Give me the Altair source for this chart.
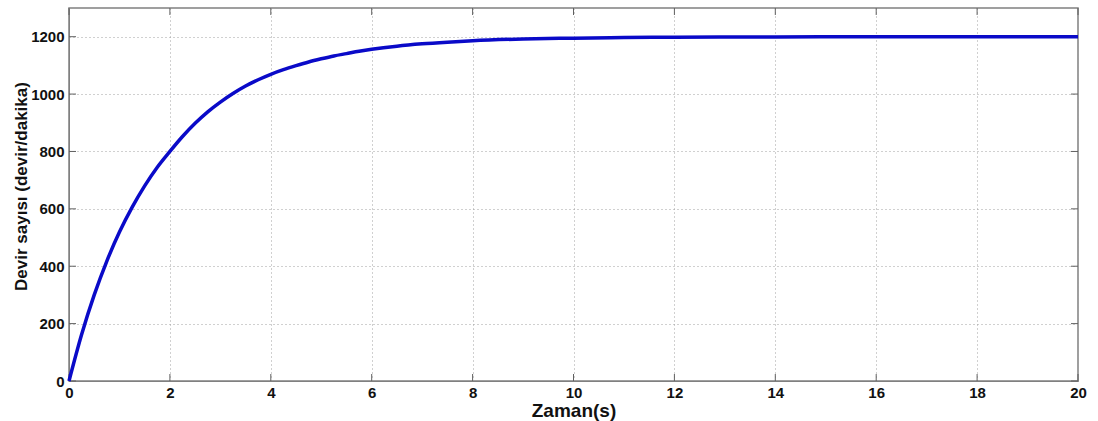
import altair as alt
import pandas as pd

t_vals = [0, 0.25, 0.5, 0.75, 1, 1.25, 1.5, 1.75, 2, 2.25, 2.5, 2.75, 3, 3.25, 3.5,
          3.75, 4, 4.25, 4.5, 4.75, 5, 5.25, 5.5, 5.75, 6, 6.5, 7, 7.5, 8, 9, 10,
          11, 12, 14, 16, 18, 20]
rpm_vals = [0, 162, 300, 418, 519, 605, 680, 745, 800, 852, 898, 938, 972, 1002,
            1028, 1050, 1069, 1085, 1099, 1112, 1123, 1133, 1141, 1149, 1156, 1167,
            1175, 1181, 1186, 1192, 1195, 1197, 1198, 1199, 1200, 1200, 1200]
x_ticks = [0, 2, 4, 6, 8, 10, 12, 14, 16, 18, 20]
y_ticks = [0, 200, 400, 600, 800, 1000, 1200]

df = pd.DataFrame({"t": t_vals, "rpm": rpm_vals})
xt = pd.DataFrame({"t": x_ticks})
yt = pd.DataFrame({"v": y_ticks})

FONT = "Liberation Sans"
xscale = alt.Scale(domain=[0, 20], nice=False, zero=False)
yscale = alt.Scale(domain=[0, 1300], nice=False)

line = alt.Chart(df).mark_line(color="#0a0ac8", strokeWidth=3.5, interpolate="monotone").encode(
    x=alt.X("t:Q", scale=xscale,
            axis=alt.Axis(title="Zaman(s)", values=x_ticks, format="d", grid=True,
                          gridDash=[1, 3], gridColor="#a0a0a0", gridWidth=1, tickSize=0,
                          labelPadding=4, domainColor="#808080", labelFont=FONT,
                          labelFontSize=15, labelFontWeight="bold", labelColor="#111",
                          titleFont=FONT, titleFontSize=19, titleFontWeight="bold",
                          titleColor="#111", titlePadding=1, labelFlush=False)),
    y=alt.Y("rpm:Q", scale=yscale,
            axis=alt.Axis(title="Devir sayısı (devir/dakika)", values=y_ticks, format="d",
                          grid=True, gridDash=[1, 3], gridColor="#a0a0a0", gridWidth=1,
                          tickSize=0, labelPadding=5, domainColor="#808080",
                          labelFont=FONT, labelFontSize=15, labelFontWeight="bold",
                          labelColor="#111", titleFont=FONT, titleFontSize=17,
                          titleFontWeight="bold", titleColor="#111",
                          titleX=-48, titleY=178, titleAngle=270, titleAlign="center",
                          titleBaseline="middle")),
)

xtick_bot = alt.Chart(xt).mark_rule(color="#606060", strokeWidth=1).encode(
    x=alt.X("t:Q", scale=xscale), y=alt.value(373), y2=alt.value(366))
xtick_top = alt.Chart(xt).mark_rule(color="#606060", strokeWidth=1).encode(
    x=alt.X("t:Q", scale=xscale), y=alt.value(0), y2=alt.value(7))
ytick_l = alt.Chart(yt).mark_rule(color="#606060", strokeWidth=1).encode(
    y=alt.Y("v:Q", scale=yscale), x=alt.value(0), x2=alt.value(7))
ytick_r = alt.Chart(yt).mark_rule(color="#606060", strokeWidth=1).encode(
    y=alt.Y("v:Q", scale=yscale), x=alt.value(1009), x2=alt.value(1002))

chart = alt.layer(xtick_bot, xtick_top, ytick_l, ytick_r, line).properties(
    width=1009, height=373,
    autosize=alt.AutoSizeParams(type="none"),
    padding={"left": 69, "top": 8, "right": 20, "bottom": 40},
    background="white",
).configure_view(stroke="#808080", strokeWidth=1.5)

chart.save("out.html", embed_options={"renderer": "svg", "actions": False})
